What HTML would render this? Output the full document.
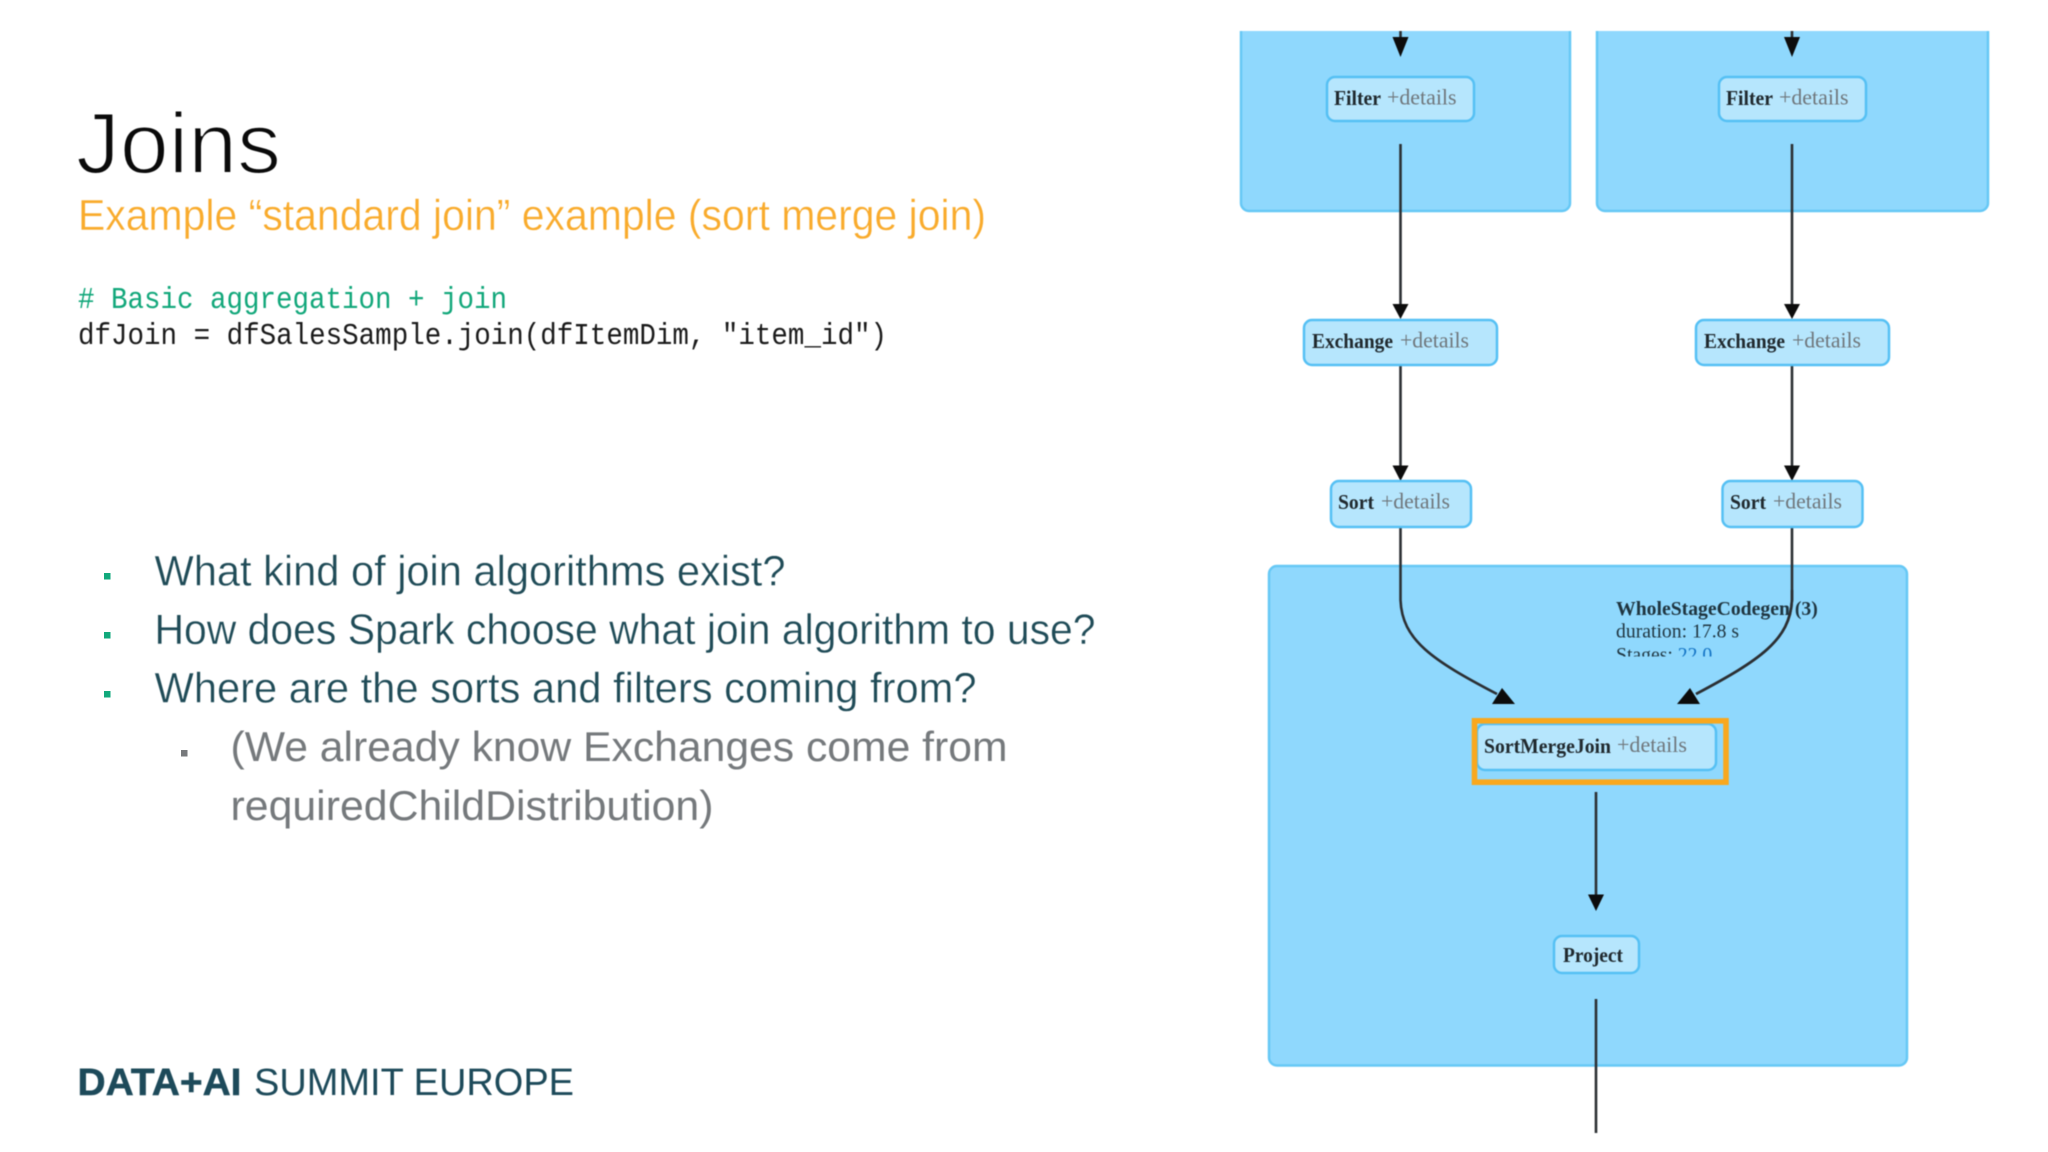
<!DOCTYPE html>
<html lang="en">
<head>
<meta charset="utf-8">
<title>Joins</title>
<style>
html,body{margin:0;padding:0;background:#fff;width:2048px;height:1152px;overflow:hidden}
svg{display:block;position:absolute;left:0;top:0}
.sans{font-family:"Liberation Sans",sans-serif}
.mono{font-family:"Liberation Mono",monospace}
.serif{font-family:"Liberation Serif",serif;font-size:20.7px}
.b{font-weight:bold;fill:#20292e}
.d{fill:#6f767b;font-size:21.7px}
.group{fill:#8fd8fd;stroke:#66c8f5;stroke-width:2.5}
.node{fill:#b6e6fd;stroke:#55c0f4;stroke-width:2.5}
.line{stroke:#2b2f33;stroke-width:2.6;fill:none}
.blur{filter:blur(.6px)}
</style>
</head>
<body>
<svg width="2048" height="1152" viewBox="0 0 2048 1152" xmlns="http://www.w3.org/2000/svg">
<defs>
<clipPath id="topclip"><rect x="1200" y="31" width="820" height="300"/></clipPath>
<clipPath id="stclip"><rect x="1600" y="600" width="240" height="56.5"/></clipPath>
</defs>
<rect width="2048" height="1152" fill="#fff"/>

<!-- Left text -->
<g class="sans blur">
<text x="76" y="173" font-size="86" fill="#0a0a0a" stroke="#fff" stroke-width="2" textLength="205" lengthAdjust="spacingAndGlyphs">Joins</text>
<text x="78" y="230" font-size="44" fill="#f9ab2c" stroke="#fff" stroke-width=".4" textLength="908" lengthAdjust="spacingAndGlyphs">Example “standard join” example (sort merge join)</text>
<text x="154.500" y="585.500" font-size="43" fill="#1f4b57" stroke="#fff" stroke-width=".4" textLength="631" lengthAdjust="spacingAndGlyphs">What kind of join algorithms exist?</text>
<text x="154.500" y="644" font-size="43" fill="#1f4b57" stroke="#fff" stroke-width=".4" textLength="941" lengthAdjust="spacingAndGlyphs">How does Spark choose what join algorithm to use?</text>
<text x="154.500" y="702.500" font-size="43" fill="#1f4b57" stroke="#fff" stroke-width=".4" textLength="822" lengthAdjust="spacingAndGlyphs">Where are the sorts and filters coming from?</text>
<text x="230.500" y="761" font-size="42" fill="#75797c" textLength="777" lengthAdjust="spacingAndGlyphs">(We already know Exchanges come from</text>
<text x="230.500" y="820" font-size="42" fill="#75797c" textLength="483" lengthAdjust="spacingAndGlyphs">requiredChildDistribution)</text>
<text x="77.500" y="1095" font-size="38" font-weight="bold" fill="#1d4a5a" stroke="#1d4a5a" stroke-width=".5" textLength="164" lengthAdjust="spacingAndGlyphs">DATA+AI</text>
<text x="254" y="1095" font-size="38" fill="#1d4a5a" textLength="320" lengthAdjust="spacingAndGlyphs">SUMMIT EUROPE</text>
</g>
<g class="mono blur" font-size="31">
<text x="78" y="308" fill="#11a77a" textLength="429" lengthAdjust="spacingAndGlyphs"># Basic aggregation + join</text>
<text x="78" y="344" fill="#1a1a1a" textLength="809" lengthAdjust="spacingAndGlyphs">dfJoin = dfSalesSample.join(dfItemDim, "item_id")</text>
</g>
<rect x="104" y="573" width="6.5" height="6.5" fill="#12a97c"/>
<rect x="104" y="632" width="6.5" height="6.5" fill="#12a97c"/>
<rect x="104" y="691" width="6.5" height="6.5" fill="#12a97c"/>
<rect x="181" y="750" width="6.5" height="6.5" fill="#77797c"/>

<!-- Diagram -->
<g class="blur">
<g clip-path="url(#topclip)">
<rect class="group" x="1241" y="10" width="329" height="201" rx="8"/>
<rect class="group" x="1597" y="10" width="391" height="201" rx="8"/>
</g>
<rect class="group" x="1269" y="566" width="638" height="499.500" rx="8"/>

<!-- connectors -->
<path class="line" d="M1400.500 31V42M1792 31V42M1400.500 144V308M1792 144V308M1400.500 365V470M1792 365V470"/>
<path class="line" d="M1400.500 527V600C1402 640 1432 660 1497 694"/>
<path class="line" d="M1792 527V600C1790 640 1760 660 1696 694"/>
<path class="line" d="M1596 792V898M1596 999V1133"/>
<g fill="#0c0c0c">
<polygon points="1392.500,37 1408.500,37 1400.500,57"/>
<polygon points="1784,37 1800,37 1792,57"/>
<polygon points="1392.500,304 1408.500,304 1400.500,319"/>
<polygon points="1784,304 1800,304 1792,319"/>
<polygon points="1392.500,465.500 1408.500,465.500 1400.500,481"/>
<polygon points="1784,465.500 1800,465.500 1792,481"/>
<polygon points="1502,688 1515,704 1492,704"/>
<polygon points="1690,688 1700,704 1677,704"/>
<polygon points="1588,894.500 1604,894.500 1596,911"/>
</g>

<!-- nodes -->
<rect class="node" x="1327" y="77" width="147" height="44" rx="8"/>
<rect class="node" x="1719" y="77" width="147" height="44" rx="8"/>
<rect class="node" x="1304" y="320" width="193" height="45" rx="8"/>
<rect class="node" x="1696" y="320" width="193" height="45" rx="8"/>
<rect class="node" x="1331" y="481" width="140" height="46" rx="8"/>
<rect class="node" x="1722.500" y="481" width="140" height="46" rx="8"/>
<rect class="node" x="1477" y="724" width="239" height="46" rx="8"/>
<rect class="node" x="1554" y="936" width="85" height="37" rx="8"/>

<rect x="1474.500" y="720.800" width="251.500" height="61.400" fill="none" stroke="#f9a81e" stroke-width="5.6"/>

<!-- node labels -->
<g class="serif">
<text class="b" x="1334" y="105" textLength="47" lengthAdjust="spacingAndGlyphs">Filter</text>
<text class="d" x="1387" y="104.500" textLength="69.500" lengthAdjust="spacingAndGlyphs">+details</text>
<text class="b" x="1726" y="105" textLength="47" lengthAdjust="spacingAndGlyphs">Filter</text>
<text class="d" x="1779" y="104.500" textLength="69.500" lengthAdjust="spacingAndGlyphs">+details</text>
<text class="b" x="1312" y="348" textLength="81" lengthAdjust="spacingAndGlyphs">Exchange</text>
<text class="d" x="1400" y="347.500" textLength="69" lengthAdjust="spacingAndGlyphs">+details</text>
<text class="b" x="1704" y="348" textLength="81" lengthAdjust="spacingAndGlyphs">Exchange</text>
<text class="d" x="1792" y="347.500" textLength="69" lengthAdjust="spacingAndGlyphs">+details</text>
<text class="b" x="1338" y="509" textLength="36" lengthAdjust="spacingAndGlyphs">Sort</text>
<text class="d" x="1381" y="508.500" textLength="69" lengthAdjust="spacingAndGlyphs">+details</text>
<text class="b" x="1730" y="509" textLength="36" lengthAdjust="spacingAndGlyphs">Sort</text>
<text class="d" x="1773" y="508.500" textLength="69" lengthAdjust="spacingAndGlyphs">+details</text>
<text class="b" x="1484" y="753" textLength="127" lengthAdjust="spacingAndGlyphs">SortMergeJoin</text>
<text class="d" x="1617" y="752" textLength="70" lengthAdjust="spacingAndGlyphs">+details</text>
<text class="b" x="1563" y="962" textLength="60" lengthAdjust="spacingAndGlyphs">Project</text>
</g>

<!-- cluster label -->
<g font-family="Liberation Serif, serif" font-size="19.7" fill="#1f3540">
<text x="1616" y="615" font-weight="bold">WholeStageCodegen (3)</text>
<text x="1616" y="637.500">duration: 17.8 s</text>
<text x="1616" y="661" clip-path="url(#stclip)">Stages: <tspan fill="#1272c4">22.0</tspan></text>
</g>
<path d="M1792 590V600C1790 640 1760 660 1696 694" stroke="#2b2f33" stroke-width="2.6" fill="none"/>
</g>
</svg>
</body>
</html>
